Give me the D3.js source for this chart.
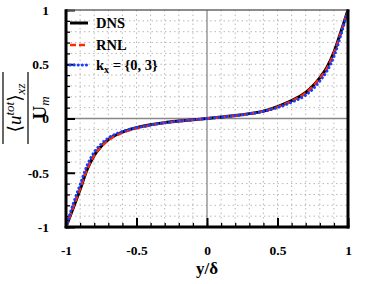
<!DOCTYPE html>
<html>
<head>
<meta charset="utf-8">
<script src="https://cdn.jsdelivr.net/npm/d3@7"></script>
<style>
  body { margin: 0; background: #fff; }
  svg { display: block; }
  text { font-family: "Liberation Serif", "DejaVu Serif", serif; }
</style>
</head>
<body>
<svg id="chart" width="374" height="284"></svg>
<script>
// wall-normal positions y/delta
var yPos = [-1, -0.95, -0.9, -0.85, -0.8, -0.75, -0.7, -0.6, -0.5, -0.4, -0.3, -0.2, -0.1, 0,
            0.1, 0.2, 0.3, 0.4, 0.5, 0.6, 0.7, 0.75, 0.8, 0.85, 0.9, 0.95, 1];
var uDNS = [-1, -0.83, -0.655, -0.47, -0.34, -0.255, -0.195, -0.125, -0.085, -0.058, -0.038, -0.024, -0.012, 0,
            0.013, 0.027, 0.045, 0.068, 0.11, 0.165, 0.24, 0.3, 0.375, 0.47, 0.61, 0.8, 1];
var uRNL = [-1, -0.82, -0.645, -0.465, -0.34, -0.26, -0.2, -0.13, -0.09, -0.062, -0.04, -0.025, -0.012, 0,
            0.012, 0.026, 0.043, 0.066, 0.105, 0.16, 0.235, 0.295, 0.37, 0.46, 0.6, 0.79, 1];
var uKx = [-1, -0.79, -0.61, -0.43, -0.31, -0.235, -0.18, -0.12, -0.085, -0.06, -0.04, -0.024, -0.012, 0,
           0.012, 0.026, 0.043, 0.065, 0.1, 0.15, 0.215, 0.27, 0.345, 0.435, 0.57, 0.77, 1];
var majorTicks = [-1, -0.5, 0, 0.5, 1];
var tickLabels = ["-1", "-0.5", "0", "0.5", "1"];
var minorTicks = d3.range(-10, 11).map(function (i) { return i / 10; });

var svg = d3.select("#chart");
var pL = 66, pR = 348, pT = 10, pB = 227;

var scX = d3.scaleLinear().domain([-1, 1]).range([pL, pR]);
var scY = d3.scaleLinear().domain([-1, 1]).range([pB, pT]);

var inner = minorTicks.filter(function (d) { return d > -1 && d < 1 && d != 0; });

// dotted grid
svg.append("g").selectAll("line")
    .data(inner)
    .enter().append("line")
    .attr("x1", function (d) { return scX(d); }).attr("x2", function (d) { return scX(d); })
    .attr("y1", pT).attr("y2", pB)
    .attr("stroke", "#b8b8b8").attr("stroke-width", 1).attr("stroke-dasharray", "1.5,3");
svg.append("g").selectAll("line")
    .data(inner)
    .enter().append("line")
    .attr("y1", function (d) { return scY(d); }).attr("y2", function (d) { return scY(d); })
    .attr("x1", pL).attr("x2", pR)
    .attr("stroke", "#b8b8b8").attr("stroke-width", 1).attr("stroke-dasharray", "1.5,3");

// zero lines
svg.append("line").attr("x1", scX(0)).attr("x2", scX(0)).attr("y1", pT).attr("y2", pB)
    .attr("stroke", "#888").attr("stroke-width", 1.3);
svg.append("line").attr("y1", scY(0)).attr("y2", scY(0)).attr("x1", pL).attr("x2", pR)
    .attr("stroke", "#888").attr("stroke-width", 1.3);

// inward ticks on left and bottom
var yAxis = d3.axisLeft(scY).tickValues(minorTicks).tickSize(-4).tickFormat("");
var gy = svg.append("g").attr("transform", "translate(" + pL + ",0)").call(yAxis);
var yMaj = d3.axisLeft(scY).tickValues(majorTicks).tickSize(-9).tickPadding(17)
    .tickFormat(function (d, i) { return tickLabels[i]; });
var gy2 = svg.append("g").attr("transform", "translate(" + pL + ",0)").call(yMaj);
var xAxis = d3.axisBottom(scX).tickValues(minorTicks).tickSize(-4).tickFormat("");
var gx = svg.append("g").attr("transform", "translate(0," + pB + ")").call(xAxis);
var xMaj = d3.axisBottom(scX).tickValues(majorTicks).tickSize(-9).tickPadding(18)
    .tickFormat(function (d, i) { return tickLabels[i]; });
var gx2 = svg.append("g").attr("transform", "translate(0," + pB + ")").call(xMaj);

[gy, gy2, gx, gx2].forEach(function (g) {
    g.select(".domain").remove();
    g.selectAll(".tick line").attr("stroke", "#000").attr("stroke-width", 1.3);
    g.selectAll(".tick text").attr("fill", "#000").attr("font-size", 13.5).attr("font-weight", "bold")
        .style("font-family", "'Liberation Serif', serif");
});
gy2.selectAll(".tick line").attr("stroke-width", 2);
gx2.selectAll(".tick line").attr("stroke-width", 2);

// curves
var lineMaker = d3.line()
    .x(function (d) { return scX(d[0]); })
    .y(function (d) { return scY(d[1]); })
    .curve(d3.curveMonotoneX);

function pts(u) { return yPos.map(function (y, i) { return [y, u[i]]; }); }

svg.append("path").attr("d", lineMaker(pts(uDNS))).attr("fill", "none")
    .attr("stroke", "#000").attr("stroke-width", 3);
svg.append("path").attr("d", lineMaker(pts(uRNL))).attr("fill", "none")
    .attr("stroke", "#ff2a00").attr("stroke-width", 2.6).attr("stroke-dasharray", "6,3");
svg.append("path").attr("d", lineMaker(pts(uKx))).attr("fill", "none")
    .attr("stroke", "#1a3cff").attr("stroke-width", 3).attr("stroke-linecap", "round")
    .attr("stroke-dasharray", "0.1,4");

// frame
svg.append("line").attr("x1", pL).attr("x2", pR).attr("y1", pT).attr("y2", pT)
    .attr("stroke", "#666").attr("stroke-width", 1.5);
svg.append("line").attr("x1", pL).attr("x2", pL).attr("y1", pT - 0.75).attr("y2", pB + 1.5)
    .attr("stroke", "#000").attr("stroke-width", 3);
svg.append("line").attr("x1", pR).attr("x2", pR).attr("y1", pT - 0.75).attr("y2", pB + 1.5)
    .attr("stroke", "#000").attr("stroke-width", 3);
svg.append("line").attr("x1", pL).attr("x2", pR + 1.5).attr("y1", pB).attr("y2", pB)
    .attr("stroke", "#000").attr("stroke-width", 3);

// legend
var leg = svg.append("g").attr("font-weight", "bold").attr("font-size", 14.5);
var legRows = [
    { y: 23, stroke: "#000", dash: null, w: 3, cap: "butt" },
    { y: 45, stroke: "#ff2a00", dash: "6,3", w: 2.6, cap: "butt" },
    { y: 65, stroke: "#1a3cff", dash: "0.1,4", w: 3, cap: "round" }
];
legRows.forEach(function (r) {
    leg.append("line").attr("x1", 70).attr("x2", 88).attr("y1", r.y).attr("y2", r.y)
        .attr("stroke", r.stroke).attr("stroke-width", r.w)
        .attr("stroke-dasharray", r.dash).attr("stroke-linecap", r.cap);
});
leg.append("text").attr("x", 96).attr("y", 28).text("DNS");
leg.append("text").attr("x", 96).attr("y", 50).text("RNL");
var kt = leg.append("text").attr("x", 96).attr("y", 70);
kt.append("tspan").text("k");
kt.append("tspan").attr("font-size", 10).attr("dy", 3).text("x");
kt.append("tspan").attr("dy", -3).text(" = {0, 3}");

// x title
svg.append("text").attr("x", scX(0)).attr("y", 274).attr("text-anchor", "middle")
    .attr("font-size", 17).attr("font-weight", "bold").text("y/δ");

// y title: overline(<u^tot>_xz) / U_m
var yt = svg.append("g").attr("transform", "translate(28,108) rotate(-90)");
var num = yt.append("text").attr("x", 0).attr("y", -7).attr("text-anchor", "middle")
    .attr("font-size", 19).attr("font-style", "italic");
num.append("tspan").attr("font-style", "normal").text("⟨");
num.append("tspan").text("u");
num.append("tspan").attr("font-size", 13).attr("dy", -7).text("tot");
num.append("tspan").attr("font-style", "normal").attr("dy", 7).text("⟩");
num.append("tspan").attr("font-size", 13).attr("dy", 4).text("xz");
yt.append("line").attr("x1", -36).attr("x2", 36).attr("y1", 0).attr("y2", 0)
    .attr("stroke", "#000").attr("stroke-width", 1.2);
yt.append("line").attr("x1", -36).attr("x2", 36).attr("y1", -25).attr("y2", -25)
    .attr("stroke", "#000").attr("stroke-width", 1.2);
var den = yt.append("text").attr("x", 0).attr("y", 18).attr("text-anchor", "middle")
    .attr("font-size", 19).attr("font-weight", "bold");
den.append("tspan").text("U");
den.append("tspan").attr("font-size", 13).attr("font-style", "italic").attr("font-weight", "normal")
    .attr("dy", 3).text("m");
</script>
</body>
</html>
